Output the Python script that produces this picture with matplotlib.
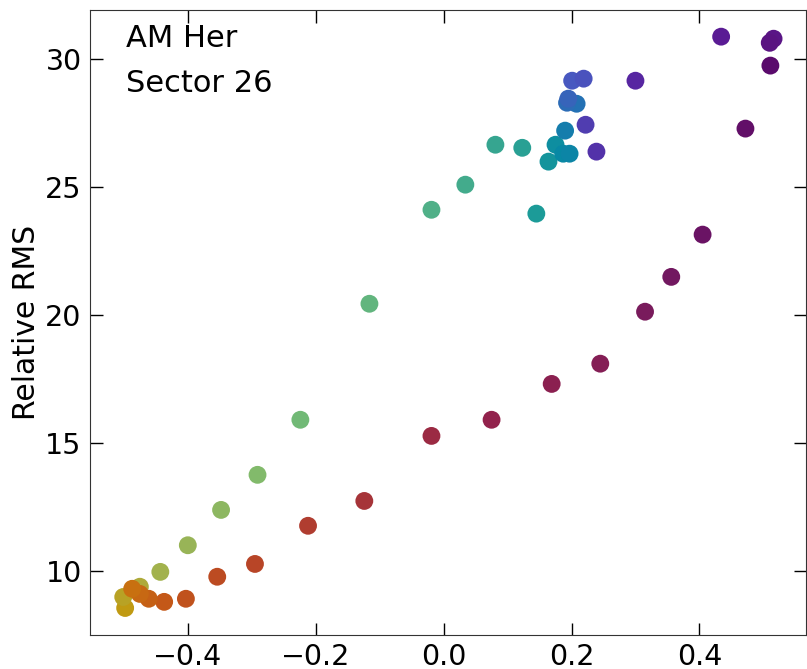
import numpy as np
import matplotlib
matplotlib.use("Agg")
import matplotlib.pyplot as plt
from matplotlib.colors import LinearSegmentedColormap

# points in the order they are traced (colour follows the phase)
rel_x = [-0.498, -0.501, -0.475, -0.443, -0.400, -0.348, -0.291, -0.224,
         -0.116, -0.019, 0.034, 0.081, 0.123, 0.145, 0.164, 0.175,
         0.187, 0.197, 0.190, 0.208, 0.193, 0.195, 0.201, 0.219,
         0.222, 0.239, 0.300, 0.434, 0.516, 0.510, 0.511, 0.472,
         0.405, 0.356, 0.315, 0.245, 0.169, 0.075, -0.019, -0.124,
         -0.212, -0.295, -0.354, -0.403, -0.437, -0.461, -0.475, -0.487]
rel_rms = [8.55, 8.98, 9.38, 9.96, 11.00, 12.38, 13.75, 15.90,
           20.43, 24.10, 25.08, 26.64, 26.52, 23.95, 25.98, 26.64,
           26.29, 26.29, 27.19, 28.24, 28.28, 28.44, 29.14, 29.22,
           27.42, 26.37, 29.14, 30.86, 30.78, 30.62, 29.73, 27.27,
           23.13, 21.48, 20.12, 18.09, 17.30, 15.90, 15.27, 12.73,
           11.76, 10.27, 9.77, 8.91, 8.79, 8.91, 9.10, 9.30]
phase = [0.00, 0.03, 0.06, 0.09, 0.11, 0.13, 0.15, 0.18,
         0.21, 0.24, 0.26, 0.28, 0.30, 0.32, 0.34, 0.36,
         0.38, 0.39, 0.41, 0.43, 0.44, 0.45, 0.47, 0.48,
         0.51, 0.53, 0.56, 0.59, 0.61, 0.62, 0.65, 0.67,
         0.69, 0.71, 0.73, 0.76, 0.78, 0.80, 0.82, 0.84,
         0.86, 0.88, 0.90, 0.92, 0.94, 0.96, 0.98, 1.00]

anchors = [(0.00, "#c09a12"), (0.08, "#a8b048"), (0.16, "#7cbc70"),
           (0.24, "#50b088"), (0.32, "#1a9a98"), (0.38, "#0888a4"),
           (0.42, "#1a78b0"), (0.47, "#4858c0"), (0.52, "#5236ac"),
           (0.58, "#5a1e9c"), (0.65, "#5a0a6c"), (0.72, "#761a5e"),
           (0.80, "#92224c"), (0.88, "#b84428"), (0.94, "#c45818"),
           (1.00, "#c87010")]
cmap = LinearSegmentedColormap.from_list("phase", anchors)

fig = plt.figure(figsize=(8.07, 6.69), dpi=100)
ax = fig.add_axes([0.1115, 0.051, 0.8875, 0.934])

ax.scatter(rel_x, rel_rms, c=phase, cmap=cmap, vmin=0, vmax=1, s=165,
           linewidths=0, zorder=3)

ax.set_xlim(-0.553, 0.567)
ax.set_ylim(7.5, 31.9)
ax.set_xticks([-0.4, -0.2, 0.0, 0.2, 0.4])
ax.set_yticks([10, 15, 20, 25, 30])
ax.set_ylabel("Relative RMS", fontsize=21.5, labelpad=3)
ax.tick_params(direction="in", top=True, right=True, length=9, width=1,
               labelsize=20.5, pad=6)
for sp in ax.spines.values():
    sp.set_color("#333333")

ax.text(0.05, 0.977, "AM Her", transform=ax.transAxes, fontsize=22, va="top")
ax.text(0.05, 0.906, "Sector 26", transform=ax.transAxes, fontsize=22, va="top")

fig.savefig("out.png", dpi=100)
